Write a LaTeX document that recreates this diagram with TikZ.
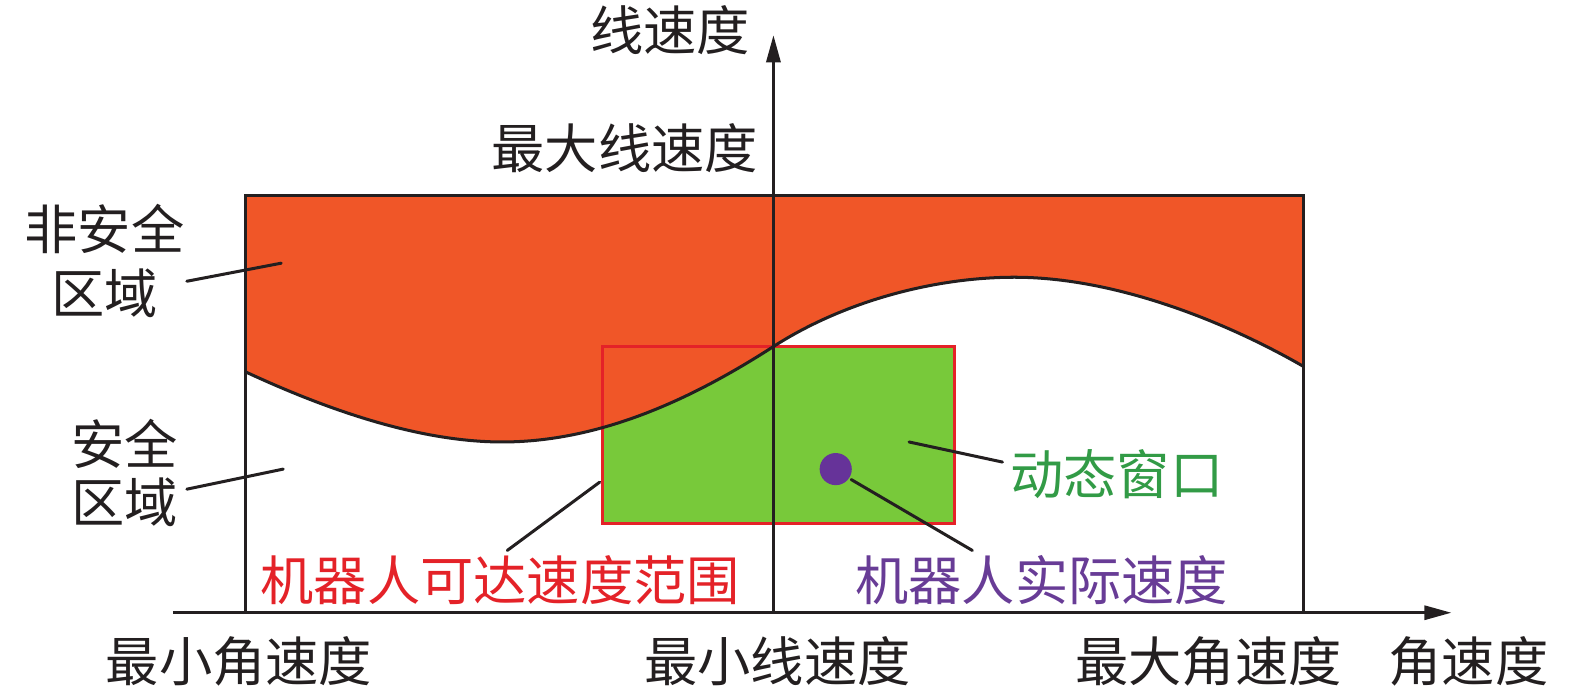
\documentclass[tikz,border=0pt]{standalone}
\usepackage{fontspec}
\newfontfamily\cjk{Noto Sans CJK SC}
\usetikzlibrary{arrows.meta}
\definecolor{unsafe}{RGB}{240,86,40}
\definecolor{winfill}{RGB}{120,201,58}
\definecolor{reachred}{RGB}{228,34,40}
\definecolor{dotpurple}{RGB}{102,51,153}
\definecolor{txtgreen}{RGB}{50,155,70}
\definecolor{txtpurple}{RGB}{104,60,150}
\definecolor{linek}{RGB}{35,31,32}
\tikzset{
  lbl/.style={font=\cjk\fontsize{26.5}{32}\selectfont, inner sep=0pt, anchor=base, text=linek},
  thick line/.style={line width=1.5pt, draw=linek},
  leader/.style={line width=1.5pt, draw=linek, line cap=round},
  axis arrow/.style={line width=1.5pt, draw=linek, -{Triangle[length=13.5pt,width=7pt]}}
}
\begin{document}
\begin{tikzpicture}[x=0.5pt,y=-0.5pt]
\useasboundingbox (0,0) rectangle (1568,691);
% dynamic window fill
\fill[winfill] (600,345) rectangle (950,521);
% unsafe region
\fill[unsafe] (244,195) -- (244,370)
  .. controls (330,410) and (420,440) .. (500,440)
  .. controls (605,440) and (700,390) .. (770,345)
  .. controls (840,300) and (930,276) .. (1010,276)
  .. controls (1110,276) and (1220,320) .. (1298,365)
  -- (1298,195) -- cycle;
% reachable range rectangle
\draw[line width=1.5pt, draw=reachred] (600,345) rectangle (950,521);
% boundary curve
\draw[thick line] (244,370)
  .. controls (330,410) and (420,440) .. (500,440)
  .. controls (605,440) and (700,390) .. (770,345)
  .. controls (840,300) and (930,276) .. (1010,276)
  .. controls (1110,276) and (1220,320) .. (1298,365);
% outer box
\draw[thick line] (244,195) rectangle (1298,610);
% axes
\coordinate (o) at (770,610);
\coordinate (xs) at (172,610);
\coordinate (xe) at (1445,610);
\coordinate (ye) at (770,35);
\draw[axis arrow] (xs) -- (xe);
\draw[axis arrow] (o) -- (ye);
% robot actual speed dot
\node[circle, fill=dotpurple, minimum size=16pt, inner sep=0pt] (dot) at (832,467) {};
% labels
\node[lbl] (ylab) at (667,50) {线速度};
\node[lbl] (ymax) at (622,168) {最大线速度};
\node[lbl, align=center] (unsafelbl) at (104,312) {非安全\\区域};
\node[lbl, align=center, font=\cjk\fontsize{26.5}{29}\selectfont] (safelbl) at (124,520) {安全\\区域};
\node[lbl, text=txtgreen] (winlbl) at (1112,492) {动态窗口};
\node[lbl, text=txtpurple] (actlbl) at (1037,598) {机器人实际速度};
\node[lbl, text=reachred] (reachlbl) at (498,598) {机器人可达速度范围};
\node[lbl] (xmin) at (238,678) {最小角速度};
\node[lbl] (xmid) at (774,678) {最小线速度};
\node[lbl] (xmax) at (1203,678) {最大角速度};
\node[lbl] (xlab) at (1462,678) {角速度};
% leader lines
\coordinate (u1) at (186,280);
\coordinate (u2) at (280,262);
\coordinate (s1) at (186,487);
\coordinate (s2) at (282,467);
\coordinate (w1) at (905,440);
\coordinate (w2) at (998,460);
\coordinate (a2) at (968,548);
\coordinate (r1) at (597,480);
\coordinate (r2) at (505,548);
\draw[leader] (u1) -- (u2);
\draw[leader] (s1) -- (s2);
\draw[leader] (w1) -- (w2);
\draw[leader] (dot.-35) ++(2,1) -- (a2);
\draw[leader] (r1) -- (r2);
\end{tikzpicture}
\end{document}
